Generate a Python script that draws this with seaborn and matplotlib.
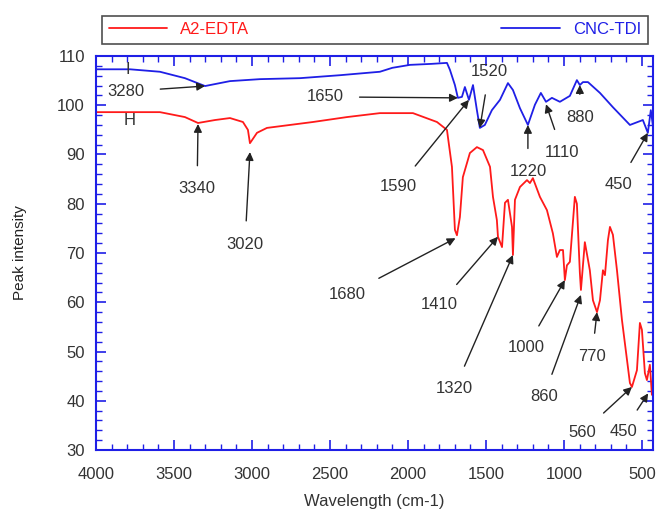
import numpy as np
import pandas as pd
import matplotlib
matplotlib.use("Agg")
import matplotlib.pyplot as plt
import seaborn as sns
from matplotlib.ticker import MultipleLocator

# ---- data ----
cnc_x = [4000, 3782, 3590, 3430, 3301, 3141, 2949, 2692, 2436, 2180, 2100, 1987, 1850,
         1750, 1731, 1699, 1680, 1654, 1635, 1609, 1583, 1558, 1539, 1507, 1462, 1410,
         1359, 1327, 1282, 1231, 1186, 1148, 1115, 1077, 1026, 962, 917, 898, 878, 846,
         769, 686, 577, 494, 462, 443, 430]
cnc_y = [107.3, 107.3, 106.8, 105.5, 103.9, 104.9, 105.3, 105.5, 106.1, 106.8, 107.6, 108.2, 108.4,
         108.6, 107.2, 104.1, 101.5, 101.7, 103.7, 101.1, 104.1, 99.0, 95.4, 96.0, 99.0, 101.1,
         104.5, 103.1, 99.4, 96.0, 100.1, 102.5, 100.7, 101.5, 100.7, 101.9, 105.1, 104.1, 104.7, 104.7,
         102.5, 99.6, 96.0, 97.0, 94.4, 99.0, 96.0]

edta_x = [4000, 3590, 3430, 3346, 3237, 3141, 3058, 3026, 3013, 3000, 2968, 2904, 2609, 2391,
          2180, 1968, 1814, 1750, 1718, 1699, 1686, 1667, 1648, 1603, 1558, 1519, 1474, 1455,
          1430, 1423, 1397, 1378, 1359, 1333, 1327, 1314, 1282, 1237, 1218, 1199, 1154, 1109,
          1071, 1045, 1026, 1006, 994, 981, 962, 930, 917, 898, 891, 866, 834, 814, 788, 769,
          750, 737, 718, 705, 686, 660, 628, 577, 564, 532, 513, 500, 481, 468, 449, 436]
edta_y = [98.6, 98.6, 97.6, 96.4, 97.0, 97.4, 96.6, 95.0, 92.3, 92.9, 94.4, 95.4, 96.6, 97.6,
          98.4, 98.4, 96.6, 95.0, 87.5, 74.7, 73.6, 77.3, 85.4, 90.3, 91.5, 90.9, 87.5, 81.4,
          76.7, 73.3, 71.2, 80.2, 80.8, 75.3, 69.6, 80.8, 83.4, 84.8, 84.2, 85.2, 81.4, 78.7,
          74.0, 69.2, 70.6, 70.6, 64.5, 67.5, 68.2, 81.4, 80.0, 66.0, 62.5, 72.2, 66.5, 60.4, 58.0, 60.4,
          66.5, 65.5, 72.6, 75.3, 73.7, 66.5, 56.4, 43.6, 42.8, 46.2, 55.8, 54.4, 45.6, 44.2, 47.3, 41.2]

series_names = ["A2-EDTA", "CNC-TDI"]
x_ticks = [4000, 3500, 3000, 2500, 2000, 1500, 1000, 500]
y_ticks = [30, 40, 50, 60, 70, 80, 90, 100, 110]

# annotations: (label, text x, text y, tip x, tip y)
cnc_ann = [("3280", 3808, 102.8, 3301, 103.9),
           ("1650", 2530, 101.7, 1680, 101.5),
           ("1520", 1480, 106.8, 1539, 95.4),
           ("1590", 2060, 83.5, 1609, 101.1),
           ("1220", 1231, 86.5, 1231, 96.0),
           ("1110", 1010, 90.5, 1115, 100.2),
           ("880", 898, 97.5, 898, 104.1),
           ("450", 650, 84.0, 462, 94.4)]
edta_ann = [("3340", 3352, 83.0, 3346, 96.2),
            ("3020", 3045, 71.8, 3013, 90.5),
            ("1680", 2390, 61.5, 1695, 73.0),
            ("1410", 1800, 59.5, 1423, 73.3),
            ("1320", 1700, 42.5, 1327, 69.6),
            ("1000", 1240, 50.8, 994, 64.5),
            ("860", 1130, 40.8, 891, 61.5),
            ("770", 820, 49.0, 788, 58.0),
            ("560", 880, 33.6, 564, 42.8),
            ("450", 620, 33.8, 460, 41.5)]

# ---- build frame ----
df = pd.concat([
    pd.DataFrame({"x": edta_x, "y": edta_y, "s": series_names[0]}),
    pd.DataFrame({"x": cnc_x, "y": cnc_y, "s": series_names[1]}),
])

sns.set_theme(style="white")
plt.rcParams['font.family'] = ['Liberation Sans', 'DejaVu Sans']

fig = plt.figure(figsize=(6.65, 5.19), dpi=100)
ax = fig.add_axes([96/665, 1-450/519, (653-96)/665, (450-56)/519])

red = "#ff1a1a"
blue = "#1f1fe6"
sns.lineplot(data=df, x="x", y="y", hue="s", palette={"A2-EDTA": red, "CNC-TDI": blue},
             estimator=None, sort=False, lw=1.3, ax=ax, legend=True)

ax.set_xlim(4000, 429)
ax.set_ylim(30, 110)
ax.set_xticks(x_ticks)
ax.set_yticks(y_ticks)
ax.xaxis.set_minor_locator(MultipleLocator(100))
ax.yaxis.set_minor_locator(MultipleLocator(2))
for sp in ax.spines.values():
    sp.set_color(blue)
    sp.set_linewidth(1.5)
ax.tick_params(which="both", direction="in", colors=blue, top=True, right=True,
               bottom=True, left=True, labelcolor="#333333", labelsize=12)
ax.tick_params(which="major", length=7, width=1.2)
ax.tick_params(which="minor", length=4, width=1.0)
ax.tick_params(axis="x", which="major", pad=12)
ax.tick_params(axis="y", which="major", pad=8)
ax.set_xlabel("Wavelength (cm-1)", fontsize=12, color="#333333", labelpad=9)
ax.set_ylabel("Peak intensity", fontsize=11, color="#222222", labelpad=22)

# series markers
ax.text(3795, 107.3, "I", ha="center", va="center", fontsize=12, color="#333333")
ax.text(3782, 97.0, "H", ha="center", va="center", fontsize=12, color="#333333")

for lab, tx, ty, px, py in cnc_ann + edta_ann:
    ax.annotate(lab, xy=(px, py), xytext=(tx, ty), fontsize=12, color="#333333",
                ha="center", va="center",
                arrowprops=dict(arrowstyle="-|>", color="#222222", lw=1.0,
                                shrinkA=9, shrinkB=0, mutation_scale=12))

# legend on top
handles, labels = ax.get_legend_handles_labels()
leg = ax.legend(handles, labels, loc="lower left", ncol=2, mode="expand",
                bbox_to_anchor=(102/665, 1-44/519, (648-102)/665, 34/519),
                bbox_transform=fig.transFigure, frameon=True, fancybox=False,
                edgecolor="#222222", handlelength=3.5, fontsize=12,
                labelcolor=[red, blue], borderaxespad=0, borderpad=0.4)
leg.get_frame().set_linewidth(1.2)

fig.savefig("out.png", dpi=100)
